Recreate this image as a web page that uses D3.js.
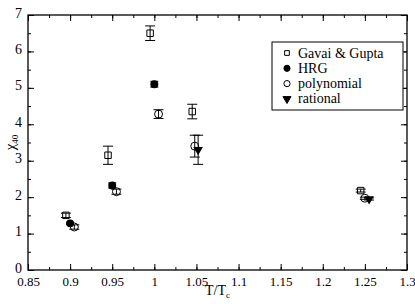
<!DOCTYPE html>
<html>
<head>
<script src="https://d3js.org/d3.v7.min.js"></script>
<style>
  body { margin: 0; background: #fff; }
</style>
</head>
<body>
<svg id="chart" width="415" height="304" font-family="Liberation Serif"></svg>
<script>
// data: T/Tc, chi_40, error
const ggT = [0.895, 0.945, 0.995, 1.045, 1.245];
const ggV = [1.50, 3.15, 6.50, 4.35, 2.18];
const ggE = [0.06, 0.25, 0.20, 0.20, 0.04];

const hrgT = [0.900, 0.950, 1.000];
const hrgV = [1.28, 2.32, 5.10];
const hrgE = [0.03, 0.07, 0.08];

const polyT = [0.905, 0.955, 1.005, 1.048, 1.250];
const polyV = [1.18, 2.15, 4.28, 3.40, 1.97];
const polyE = [0.06, 0.07, 0.12, 0.30, 0.03];

const ratT = [1.052, 1.255];
const ratV = [3.30, 1.95];
const ratE = [0.40, 0.03];

const xTicks = [0.85, 0.9, 0.95, 1, 1.05, 1.1, 1.15, 1.2, 1.25, 1.3];
const yTicks = [0, 1, 2, 3, 4, 5, 6, 7];

const FONT = "'Liberation Serif'";
const svg = d3.select('#chart');
const margin = { top: 15, right: 8, bottom: 34, left: 28 };
const W = 415, H = 304;
const iw = W - margin.left - margin.right;
const ih = H - margin.top - margin.bottom;

const x = d3.scaleLinear().domain([0.85, 1.3]).range([0, iw]);
const y = d3.scaleLinear().domain([0, 7]).range([ih, 0]);

const g = svg.append('g').attr('transform', `translate(${margin.left},${margin.top})`);

// frame
g.append('rect').attr('width', iw).attr('height', ih)
  .attr('fill', 'none').attr('stroke', '#000').attr('stroke-width', 1.3);

const fmt = d => String(+d.toFixed(2));
const xMinor = d3.range(0.85, 1.3001, 0.025);
const yMinor = d3.range(0, 7.001, 0.5);

function tickStyle(sel) {
  sel.select('.domain').remove();
  sel.attr('font-family', 'Liberation Serif');
  sel.selectAll('line').attr('stroke', '#000');
  sel.selectAll('text').attr('font-size', 13).attr('fill', '#000').style('font-family', FONT);
}

// bottom and top
g.append('g').attr('transform', `translate(0,${ih})`)
  .call(d3.axisBottom(x).tickValues(xMinor).tickSize(-3).tickFormat(''))
  .call(tickStyle);
g.append('g').attr('transform', `translate(0,${ih})`)
  .call(d3.axisBottom(x).tickValues(xTicks).tickSize(-6).tickPadding(7).tickFormat(fmt))
  .call(tickStyle);
g.append('g')
  .call(d3.axisTop(x).tickValues(xMinor).tickSize(-3).tickFormat(''))
  .call(tickStyle);
g.append('g')
  .call(d3.axisTop(x).tickValues(xTicks).tickSize(-6).tickFormat(''))
  .call(tickStyle);

// left and right
g.append('g')
  .call(d3.axisLeft(y).tickValues(yMinor).tickSize(-3).tickFormat(''))
  .call(tickStyle);
const yAx = g.append('g')
  .call(d3.axisLeft(y).tickValues(yTicks).tickSize(-6).tickPadding(6).tickFormat(d3.format('d')))
  .call(tickStyle);
yAx.selectAll('text').attr('font-size', 14).attr('dy', '0.15em');
g.append('g').attr('transform', `translate(${iw},0)`)
  .call(d3.axisRight(y).tickValues(yMinor).tickSize(-3).tickFormat(''))
  .call(tickStyle);
g.append('g').attr('transform', `translate(${iw},0)`)
  .call(d3.axisRight(y).tickValues(yTicks).tickSize(-6).tickFormat(''))
  .call(tickStyle);

// axis labels
const xl = svg.append('text').attr('x', margin.left + iw / 2).attr('y', 295)
  .attr('text-anchor', 'middle').attr('font-size', 14).style('font-family', FONT);
xl.append('tspan').text('T/T');
xl.append('tspan').attr('font-size', 9).attr('dy', 3).text('c');

const yl = svg.append('text')
  .attr('transform', `translate(15,${margin.top + ih / 2}) rotate(-90)`)
  .attr('text-anchor', 'middle').attr('font-size', 15).style('font-family', FONT);
yl.append('tspan').text('χ');
yl.append('tspan').attr('font-size', 9).attr('dy', 3).text('40');

// error bars
function errorBars(T, V, E, cap) {
  const rows = T.map((t, i) => ({ t, v: V[i], e: E[i] }));
  const eg = g.append('g').attr('stroke', '#000').attr('stroke-width', 1);
  rows.forEach(d => {
    const cx = x(d.t), lo = y(d.v - d.e), hi = y(d.v + d.e);
    eg.append('line').attr('x1', cx).attr('x2', cx).attr('y1', lo).attr('y2', hi);
    eg.append('line').attr('x1', cx - cap).attr('x2', cx + cap).attr('y1', lo).attr('y2', lo);
    eg.append('line').attr('x1', cx - cap).attr('x2', cx + cap).attr('y1', hi).attr('y2', hi);
  });
  return rows;
}

const ggRows = errorBars(ggT, ggV, ggE, 5);
const polyRows = errorBars(polyT, polyV, polyE, 5);
const ratRows = errorBars(ratT, ratV, ratE, 5);
const hrgRows = errorBars(hrgT, hrgV, hrgE, 4);

const sq = d3.symbol().type(d3.symbolSquare).size(42);
const circ = d3.symbol().type(d3.symbolCircle).size(50);
const tri = d3.symbol().type(d3.symbolTriangle).size(40);

g.selectAll('.gg').data(ggRows).join('path').attr('class', 'gg')
  .attr('d', sq).attr('transform', d => `translate(${x(d.t)},${y(d.v)})`)
  .attr('fill', 'none').attr('stroke', '#000').attr('stroke-width', 1);
g.selectAll('.poly').data(polyRows).join('path').attr('class', 'poly')
  .attr('d', circ).attr('transform', d => `translate(${x(d.t)},${y(d.v)})`)
  .attr('fill', 'none').attr('stroke', '#000').attr('stroke-width', 1);
g.selectAll('.hrg').data(hrgRows).join('path').attr('class', 'hrg')
  .attr('d', circ).attr('transform', d => `translate(${x(d.t)},${y(d.v)})`)
  .attr('fill', '#000');
g.selectAll('.rat').data(ratRows).join('path').attr('class', 'rat')
  .attr('d', tri).attr('transform', d => `translate(${x(d.t)},${y(d.v)}) rotate(180)`)
  .attr('fill', '#000');

// legend
const lg = svg.append('g').attr('transform', 'translate(272,42)');
lg.append('rect').attr('width', 131).attr('height', 68)
  .attr('fill', '#fff').attr('stroke', '#000').attr('stroke-width', 1);
const legendItems = [
  { label: 'Gavai & Gupta', sym: d3.symbol().type(d3.symbolSquare).size(22), fill: 'none', rot: 0 },
  { label: 'HRG', sym: d3.symbol().type(d3.symbolCircle).size(30), fill: '#000', rot: 0 },
  { label: 'polynomial', sym: d3.symbol().type(d3.symbolCircle).size(30), fill: 'none', rot: 0 },
  { label: 'rational', sym: d3.symbol().type(d3.symbolTriangle).size(28), fill: '#000', rot: 180 }
];
legendItems.forEach((it, i) => {
  const yy = 11 + i * 15.3;
  lg.append('path').attr('d', it.sym)
    .attr('transform', `translate(15,${yy}) rotate(${it.rot})`)
    .attr('fill', it.fill).attr('stroke', '#000').attr('stroke-width', 1);
  lg.append('text').attr('x', 26).attr('y', yy + 4.5).attr('font-size', 14)
    .style('font-family', FONT).text(it.label);
});
</script>
</body>
</html>
